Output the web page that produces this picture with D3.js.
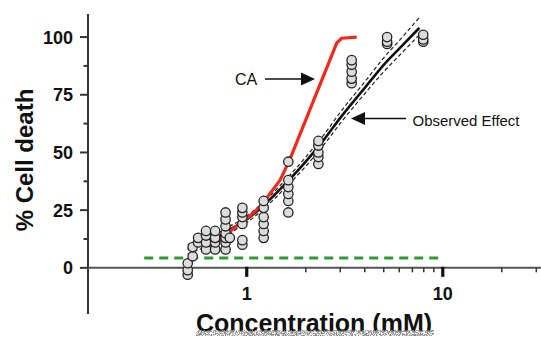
<!DOCTYPE html>
<html>
<head>
<meta charset="utf-8">
<script src="https://cdn.jsdelivr.net/npm/d3@7"></script>
<style>
  html, body { margin: 0; padding: 0; background: #fff; }
  svg { display: block; }
  text { font-family: "Liberation Sans", Arial, sans-serif; }
</style>
</head>
<body>
<svg id="chart" width="541" height="338"></svg>
<script>
// Observed cell death per concentration group (mM, % cell death)
const obsConc = [0.50, 0.53, 0.565, 0.62, 0.69, 0.78, 0.82, 0.95, 1.22, 1.63, 2.32, 3.43, 5.2, 7.95];
const obsValues = [
  [-3, -1, 2],
  [5, 9],
  [11, 13],
  [8, 11, 14, 16],
  [8, 11, 13, 16],
  [8, 11, 13, 15, 18, 21, 24],
  [13],
  [10, 12, 19, 22, 24, 26],
  [13, 16, 19, 22, 26, 29],
  [24, 29, 32, 35, 38, 46],
  [45, 48, 50, 53, 55],
  [80, 82, 85, 88, 90],
  [97, 98, 100],
  [98, 99, 101]
];

// Fitted observed-effect curve with its confidence band
const fitConc  = [0.5, 0.6, 0.7, 0.8, 1.0, 1.2, 1.6, 2.0, 2.5, 3.0, 4.0, 5.0, 6.0, 7.6];
const fitMid   = [8, 10.5, 13, 16, 21, 26.5, 37, 46, 56, 65, 78, 88, 95, 104];
const fitUpper = [10, 12.3, 14.6, 17.5, 22.4, 28, 38.7, 48, 58.2, 67.4, 80.6, 91, 98.5, 108.5];
const fitLower = [6, 8.7, 11.4, 14.5, 19.6, 25, 35.3, 44, 53.8, 62.6, 75.5, 85, 92, 101];

// Concentration addition (CA) prediction
const caConc   = [0.635, 0.745, 0.855, 1.02, 1.17, 1.48, 1.66, 2.88, 3.05, 3.64];
const caValues = [9, 12.5, 17, 22, 26.5, 38, 47, 97.5, 99.5, 100];

// Baseline threshold (dashed green)
const baseConc  = [0.3, 10];
const baseValue = 4.3;

// Axis ticks
const yMajorTicks = [0, 25, 50, 75, 100];
const yMinorTicks = [12.5, 37.5, 62.5, 87.5];
const xMajorTicks = [1, 10];
const xMinorTicks = [2, 3, 4, 5, 6, 7, 8, 9, 20, 30];
const xTickLabels = ["1", "10"];

const svg = d3.select("#chart");

const x = d3.scaleLog().domain([0.155, 31.7]).range([88, 541]);
const y = d3.scaleLinear().domain([-20, 110]).range([314, 14]);

// grain filter for the lower edge of the x title
const defs = svg.append("defs");
const f = defs.append("filter").attr("id", "grain").attr("x", 0).attr("y", 0).attr("width", 1).attr("height", 1);
f.append("feTurbulence").attr("type", "fractalNoise").attr("baseFrequency", 1.1).attr("numOctaves", 2).attr("seed", 4);
f.append("feColorMatrix").attr("type", "matrix")
  .attr("values", "0 0 0 0 0.25  0 0 0 0 0.25  0 0 0 0 0.25  4.5 0 0 0 -1.7");

// y axis
const yAxisG = svg.append("g").attr("transform", "translate(88,0)");
yAxisG.append("line").attr("x1", 0).attr("x2", 0).attr("y1", y(110)).attr("y2", y(-20))
  .attr("stroke", "#333").attr("stroke-width", 2);
yAxisG.selectAll(".ymaj").data(yMajorTicks).join("line")
  .attr("x1", -8).attr("x2", 0).attr("y1", d => y(d)).attr("y2", d => y(d))
  .attr("stroke", "#333").attr("stroke-width", 2);
yAxisG.selectAll(".ymin").data(yMinorTicks).join("line")
  .attr("class", "ymin")
  .attr("x1", -4.5).attr("x2", 0).attr("y1", d => y(d)).attr("y2", d => y(d))
  .attr("stroke", "#333").attr("stroke-width", 2);
yAxisG.selectAll(".ylab").data(yMajorTicks).join("text")
  .attr("class", "ylab")
  .attr("x", -15).attr("y", d => y(d)).attr("dy", "0.36em")
  .attr("text-anchor", "end").attr("font-size", 18).attr("font-weight", "bold").attr("fill", "#111")
  .text(d => d);

// x axis
const xAxisG = svg.append("g").attr("transform", `translate(0,${y(0)})`);
xAxisG.append("line").attr("x1", 88).attr("x2", 541).attr("y1", 0).attr("y2", 0)
  .attr("stroke", "#555").attr("stroke-width", 2);
xAxisG.selectAll(".xmaj").data(xMajorTicks).join("line")
  .attr("class", "xmaj")
  .attr("x1", d => x(d)).attr("x2", d => x(d)).attr("y1", -1).attr("y2", 9)
  .attr("stroke", "#111").attr("stroke-width", 3.2);
xAxisG.selectAll(".xmin").data(xMinorTicks).join("line")
  .attr("class", "xmin")
  .attr("x1", d => x(d)).attr("x2", d => x(d)).attr("y1", 0).attr("y2", 4.5)
  .attr("stroke", "#333").attr("stroke-width", 1.5);
xAxisG.selectAll(".xlab").data(xMajorTicks).join("text")
  .attr("class", "xlab")
  .attr("x", d => x(d)).attr("y", 32)
  .attr("text-anchor", "middle").attr("font-size", 18).attr("font-weight", "bold").attr("fill", "#111")
  .text((d, i) => xTickLabels[i]);

// axis titles
svg.append("text")
  .attr("transform", "translate(33,160) rotate(-90)")
  .attr("text-anchor", "middle").attr("font-size", 24).attr("font-weight", "bold").attr("fill", "#111")
  .text("% Cell death");

const clip = defs.append("clipPath").attr("id", "titleclip");
clip.append("rect").attr("x", 0).attr("y", 0).attr("width", 541).attr("height", 331.5);
svg.append("text")
  .attr("clip-path", "url(#titleclip)")
  .attr("x", 314).attr("y", 331.5)
  .attr("text-anchor", "middle").attr("font-size", 25).attr("font-weight", "bold").attr("fill", "#111")
  .text("Concentration (mM)");
svg.append("rect").attr("x", 196).attr("y", 330.5).attr("width", 238).attr("height", 5.5)
  .attr("filter", "url(#grain)");

// baseline
svg.append("line")
  .attr("x1", x(baseConc[0])).attr("x2", x(baseConc[1]))
  .attr("y1", y(baseValue)).attr("y2", y(baseValue))
  .attr("stroke", "#2e9c2e").attr("stroke-width", 3).attr("stroke-dasharray", "9,6");

// fitted curve and band
const line = d3.line().x(d => x(d[0])).y(d => y(d[1])).curve(d3.curveMonotoneX);
const zipped = (xs, ys) => xs.map((v, i) => [v, ys[i]]);
svg.append("path").attr("d", line(zipped(fitConc, fitUpper)))
  .attr("fill", "none").attr("stroke", "#222").attr("stroke-width", 1.2).attr("stroke-dasharray", "4,2.5");
svg.append("path").attr("d", line(zipped(fitConc, fitLower)))
  .attr("fill", "none").attr("stroke", "#222").attr("stroke-width", 1.2).attr("stroke-dasharray", "4,2.5");
svg.append("path").attr("d", line(zipped(fitConc, fitMid)))
  .attr("fill", "none").attr("stroke", "#111").attr("stroke-width", 2.6);

// CA prediction
svg.append("path").attr("d", d3.line().x(d => x(d[0])).y(d => y(d[1]))(zipped(caConc, caValues)))
  .attr("fill", "none").attr("stroke", "#f02a1a").attr("stroke-width", 3.2).attr("stroke-linejoin", "round");

// observations
const pts = obsConc.flatMap((c, i) => obsValues[i].map(v => [c, v]));
svg.append("g").selectAll("circle").data(pts).join("circle")
  .attr("cx", d => x(d[0])).attr("cy", d => y(d[1])).attr("r", 4.7)
  .attr("fill", "#dcdcdc").attr("stroke", "#222").attr("stroke-width", 1.3);

// annotations
function arrow(x1, x2, yy) {
  const dir = Math.sign(x2 - x1);
  svg.append("line").attr("x1", x1).attr("x2", x2 - dir * 12).attr("y1", yy).attr("y2", yy)
    .attr("stroke", "#111").attr("stroke-width", 1.6);
  svg.append("path")
    .attr("d", `M${x2},${yy} L${x2 - dir * 14},${yy - 6.5} L${x2 - dir * 14},${yy + 6.5} Z`)
    .attr("fill", "#111");
}
svg.append("text").attr("x", 235).attr("y", 85).attr("font-size", 16).attr("fill", "#111").text("CA");
arrow(265, 315, 79);
svg.append("text").attr("x", 412.5).attr("y", 125.5).attr("font-size", 15.5).attr("fill", "#111")
  .attr("textLength", 107).attr("lengthAdjust", "spacingAndGlyphs").text("Observed Effect");
arrow(406, 351, 118.5);
</script>
</body>
</html>
